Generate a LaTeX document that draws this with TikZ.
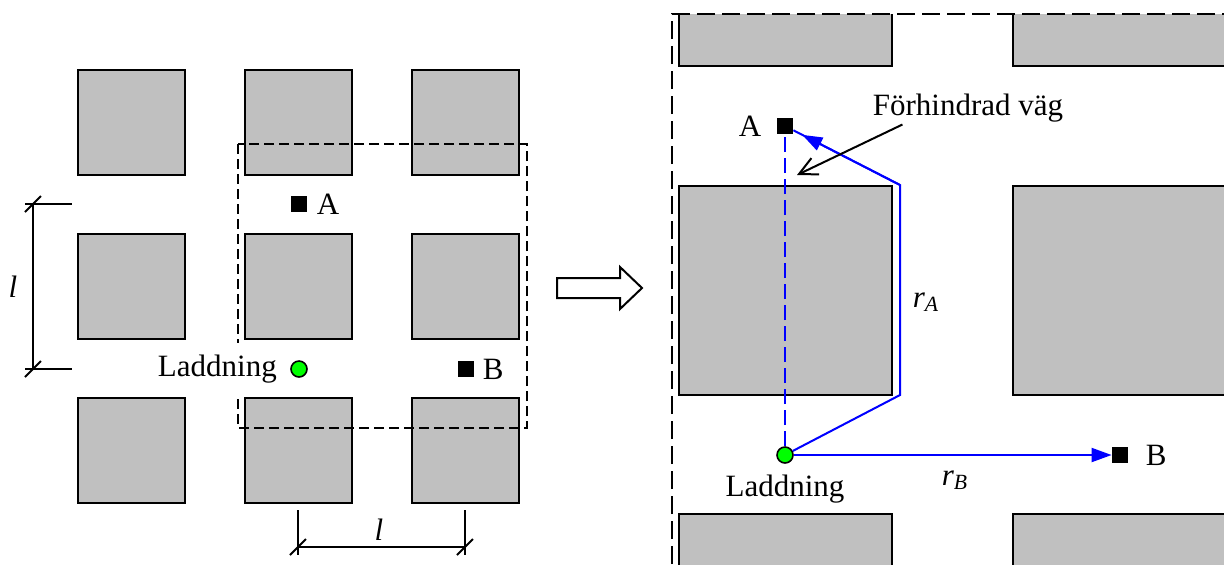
\documentclass[tikz,border=0pt]{standalone}
\usepackage{fontspec}
\setmainfont{Liberation Serif}
\usepackage{tikz}
\usetikzlibrary{calc,arrows.meta,positioning}
\definecolor{blockGray}{RGB}{192,192,192}
\definecolor{pathBlue}{RGB}{0,0,255}
\definecolor{chargeGreen}{RGB}{0,255,0}

\begin{document}
\begin{tikzpicture}[x=0.5pt,y=-0.5pt,
  sq/.style={draw=black, fill=blockGray, line width=1.1pt},
  pointmark/.style={fill=black, minimum size=8pt, inner sep=0pt},
  chargedot/.style={circle, draw=black, fill=chargeGreen, line width=0.8pt, minimum size=8pt, inner sep=0pt},
  txt/.style={font=\fontsize{15.5}{18}\selectfont, inner sep=0pt}]
\useasboundingbox (0,0) rectangle (1224,564);

% left: grid of blocks
\foreach \cx in {78,245,412}
  \foreach \cy in {70,234,398}
    \draw[sq] (\cx,\cy) rectangle ++(107,105);
\draw[line width=0.8pt, dash pattern=on 5pt off 2.5pt] (238,144) rectangle (527,428);

\node[pointmark] (markA) at (299,204) {};
\node[txt, right=4.5pt of markA] (labA) {A};
\node[pointmark] (markB) at (466,369) {};
\node[txt, right=4pt of markB] (labB) {B};
\node[chargedot] (chargeL) at (299,369) {};
\node[txt, fill=white, inner ysep=6pt, left=6.5pt of chargeL] (labChargeL) {Laddning};

% dimension lines
\coordinate (dimTop) at (33,204);
\coordinate (dimBot) at (33,369);
\draw[line width=1pt] (25,204) -- (72,204);
\draw[line width=1pt] (25,369) -- (72,369);
\draw[line width=1pt] (dimTop) -- (dimBot);
\draw[line width=1pt] (dimTop) +(-8,8) -- +(8,-8);
\draw[line width=1pt] (dimBot) +(-8,8) -- +(8,-8);
\node[txt] (dimLabV) at (13,287) {\textit{l}};

\coordinate (dimLeft) at (298,547);
\coordinate (dimRight) at (465,547);
\draw[line width=1pt] (298,510) -- (298,555);
\draw[line width=1pt] (465,510) -- (465,555);
\draw[line width=1pt] (dimLeft) -- (dimRight);
\draw[line width=1pt] (dimLeft) +(-8,8) -- +(8,-8);
\draw[line width=1pt] (dimRight) +(-8,8) -- +(8,-8);
\node[txt] (dimLabH) at (379,530) {\textit{l}};

% block arrow
\draw[line width=1pt] (557,278) -- (620,278) -- (620,267) -- (642,288)
  -- (620,309) -- (620,298) -- (557,298) -- cycle;

% right: zoomed view
\begin{scope}
\clip (672,14) rectangle (1224,564);
\foreach \cx in {679,1013}
  \foreach \cy in {-143,186,514}
    \draw[sq] (\cx,\cy) rectangle ++(213,209);
\end{scope}
\draw[line width=1pt, dash pattern=on 9pt off 3.5pt] (672,564) -- (672,14) -- (1224,14);

\node[pointmark] (markRA) at (785,126) {};
\node[txt, left=7.5pt of markRA] (labRA) {A};
\node[pointmark] (markRB) at (1120,455) {};
\node[txt, right=8.5pt of markRB] (labRB) {B};
\node[chargedot] (chargeR) at (785,455) {};
\node[txt, below=5.5pt of chargeR] (labChargeR) {Laddning};

\coordinate (turnLow) at (900,395);
\coordinate (turnHigh) at (900,185);
\draw[pathBlue, line width=1pt, dash pattern=on 7.5pt off 3pt] (chargeR) -- (markRA);
\draw[pathBlue, line width=1pt] (chargeR) -- (turnLow) -- (turnHigh) -- (markRA);
\draw[pathBlue, line width=1pt, -{Triangle[length=10pt,width=7pt]}, shorten >=5pt] (turnHigh) -- (markRA);
\draw[pathBlue, line width=1pt, -{Triangle[length=10pt,width=7pt]}] (chargeR) -- (markRB);
\node[txt] (rA) at (926,302) {\textit{r}\textsubscript{\textit{A}}};
\node[txt] (rB) at (955,480) {\textit{r}\textsubscript{\textit{B}}};

\node[txt] (hint) at (968,108) {Förhindrad väg};
\coordinate (blocked) at (797,175);
\draw[line width=1pt, -{Straight Barb[length=9pt,width=9pt]}] ($(hint.south west)+(30,2)$) -- (blocked);
\end{tikzpicture}
\end{document}
